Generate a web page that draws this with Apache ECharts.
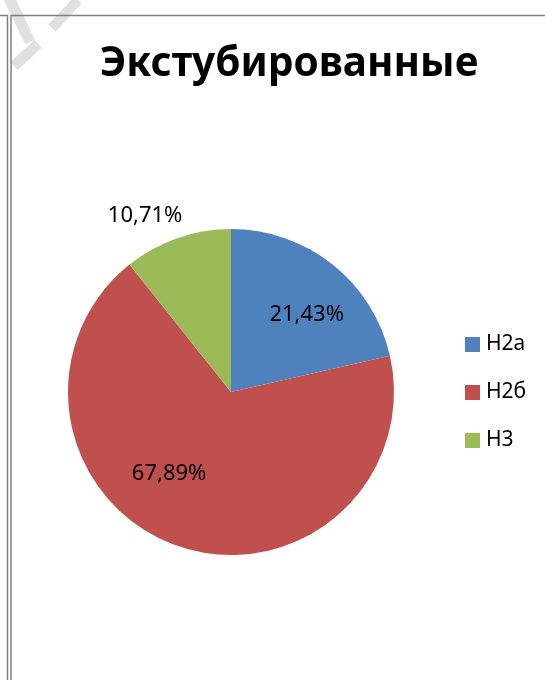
<!DOCTYPE html>
<html><head><meta charset="utf-8">
<script src="https://cdn.jsdelivr.net/npm/echarts@6/dist/echarts.min.js"></script>
<style>html,body{margin:0;padding:0;background:#fff}#c{width:545px;height:680px}</style>
</head><body><div id="c"></div>
<script>
const titleText = "Экстубированные";
const categories = ["Н2а", "Н2б", "Н3"];
const values = [21.43, 67.89, 10.71];
const labelTexts = ["21,43%", "67,89%", "10,71%"];
const colors = ["#4f81bd", "#c0504d", "#9bbb59"];

const labelShift = [[23, -11], [-34, 2], [-58, -97]];

const chart = echarts.init(document.getElementById('c'), null, {renderer: 'canvas'});
chart.setOption({
  animation: false,
  backgroundColor: '#ffffff',
  title: {
    text: titleText, left: 284, top: 39, textAlign: 'center',
    textStyle: {fontFamily: 'Noto Sans', fontWeight: 'bold', fontSize: 40.5, color: '#000'}
  },
  legend: {
    orient: 'vertical', left: 460, top: 329,
    itemWidth: 15, itemHeight: 15, itemGap: 27,
    icon: 'rect',
    textStyle: {fontFamily: 'Noto Sans', fontSize: 21, color: '#000', padding: [0, 0, 0, 1]},
    data: categories
  },
  graphic: [
    {type: 'line', shape: {x1: 8, y1: -4, x2: 30, y2: 42}, style: {stroke: '#e0e0e0', lineWidth: 11}, z: 0},
    {type: 'line', shape: {x1: 78, y1: 0, x2: 52, y2: 28}, style: {stroke: '#e0e0e0', lineWidth: 10}, z: 0},
    {type: 'line', shape: {x1: 38, y1: 44, x2: 14, y2: 66}, style: {stroke: '#e0e0e0', lineWidth: 11}, z: 0},
    {type: 'line', shape: {x1: 7.5, y1: 15, x2: 7.5, y2: 680}, style: {stroke: '#7f7f7f', lineWidth: 1.5}, z: 10},
    {type: 'line', shape: {x1: 11, y1: 15, x2: 11, y2: 680}, style: {stroke: '#7f7f7f', lineWidth: 1.5}, z: 10},
    {type: 'line', shape: {x1: 0, y1: 15.5, x2: 8, y2: 15.5}, style: {stroke: '#7f7f7f', lineWidth: 1.5}, z: 10},
    {type: 'line', shape: {x1: 11, y1: 15.5, x2: 545, y2: 15.5}, style: {stroke: '#7f7f7f', lineWidth: 1.5}, z: 10}
  ],
  series: [{
    type: 'pie',
    center: [231, 392],
    radius: 163,
    startAngle: 90,
    clockwise: true,
    data: categories.map((c, i) => ({name: c, value: values[i], itemStyle: {color: colors[i]}})),
    label: {
      show: true, position: 'inside',
      formatter: p => labelTexts[p.dataIndex],
      fontFamily: 'Noto Sans', fontSize: 22, color: '#000'
    },
    labelLine: {show: false},
    labelLayout: p => ({dx: labelShift[p.dataIndex][0], dy: labelShift[p.dataIndex][1]}),
    emphasis: {disabled: true}
  }]
});
</script></body></html>
